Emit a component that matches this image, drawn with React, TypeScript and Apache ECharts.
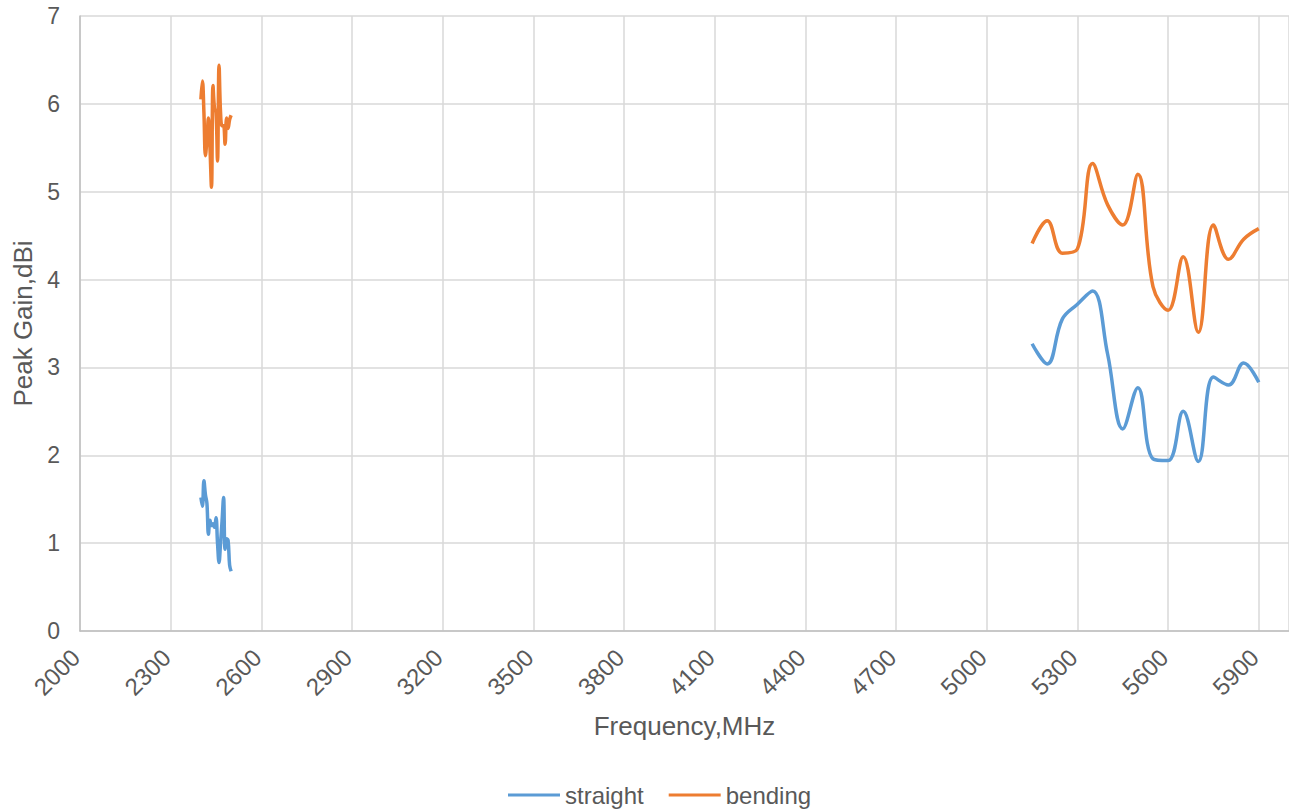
import React, { useEffect, useRef } from "react";
import * as echarts from "echarts";

// ---- data ----
const freqLow = [2400, 2405, 2410, 2415, 2420, 2425, 2430, 2435, 2440, 2445, 2450, 2455, 2460, 2465, 2470, 2475, 2480, 2485, 2490, 2495, 2500];
const straightLow = [1.52, 1.42, 1.71, 1.55, 1.45, 1.10, 1.26, 1.20, 1.22, 1.18, 1.29, 1.00, 0.78, 1.00, 1.25, 1.52, 0.93, 1.05, 1.03, 0.75, 0.68];
const bendingLow = [6.05, 6.26, 5.90, 5.41, 5.60, 5.84, 5.50, 5.05, 6.21, 5.95, 5.90, 5.35, 6.44, 5.90, 5.75, 5.75, 5.54, 5.84, 5.72, 5.82, 5.87];

const freqHigh = [5150, 5200, 5250, 5300, 5350, 5400, 5450, 5500, 5550, 5600, 5650, 5700, 5750, 5800, 5850, 5900];
const straightHigh = [3.27, 3.04, 3.55, 3.72, 3.87, 3.15, 2.30, 2.77, 1.96, 1.94, 2.50, 1.93, 2.89, 2.80, 3.05, 2.83];
const bendingHigh = [4.41, 4.67, 4.30, 4.35, 5.32, 4.85, 4.62, 5.20, 3.92, 3.65, 4.26, 3.40, 4.62, 4.23, 4.46, 4.58];

const seriesNames = ["straight", "bending"];
const xMin = 2000;
const xMax = 6000;
const xStep = 300;
const yMin = 0;
const yMax = 7;
const yStep = 1;

const FONT = "'Liberation Sans', Arial, sans-serif";
const TXT = "#595959";

function build(low: number[], high: number[]) {
  const a: any[] = freqLow.map((f, i) => [f, low[i]]);
  a.push(["-", "-"]);
  freqHigh.forEach((f, i) => a.push([f, high[i]]));
  return a;
}

export default function App() {
  const ref = useRef<HTMLDivElement>(null);
  useEffect(() => {
    if (!ref.current) return;
    const chart = echarts.init(ref.current, undefined, { renderer: "svg" });
    chart.setOption({
      animation: false,
      backgroundColor: "#ffffff",
      grid: { left: 80, right: 0, top: 16, bottom: 181, containLabel: false },
      legend: {
        data: seriesNames,
        bottom: 0,
        left: 503,
        icon: "rect",
        itemWidth: 52,
        itemHeight: 3,
        itemGap: 25,
        textStyle: { fontFamily: FONT, fontSize: 24, color: TXT },
      },
      xAxis: {
        type: "value",
        min: xMin,
        max: xMax,
        interval: xStep,
        name: "Frequency,MHz",
        nameLocation: "middle",
        nameGap: 82,
        nameTextStyle: { fontFamily: FONT, fontSize: 26, color: TXT },
        axisLine: { show: true, lineStyle: { color: "#bfbfbf", width: 1.5 } },
        axisTick: { show: false },
        splitLine: { show: true, lineStyle: { color: "#d9d9d9", width: 1.5 } },
        axisLabel: {
          rotate: 45,
          margin: 18,
          padding: [0, 6, 0, 0],
          fontFamily: FONT,
          fontSize: 24,
          color: TXT,
          showMaxLabel: false,
          formatter: (v: number) => (v >= xMax ? "" : String(v)),
        },
      },
      yAxis: {
        type: "value",
        min: yMin,
        max: yMax,
        interval: yStep,
        name: "Peak Gain,dBi",
        nameLocation: "middle",
        nameGap: 44,
        nameTextStyle: { fontFamily: FONT, fontSize: 26, color: TXT },
        axisLine: { show: true, lineStyle: { color: "#bfbfbf", width: 1.5 } },
        axisTick: { show: false },
        splitLine: { show: true, lineStyle: { color: "#d9d9d9", width: 1.5 } },
        axisLabel: { margin: 20, fontFamily: FONT, fontSize: 23, color: TXT },
      },
      series: [
        {
          name: seriesNames[0],
          type: "line",
          data: build(straightLow, straightHigh),
          smooth: 0.4,
          showSymbol: false,
          connectNulls: false,
          lineStyle: { color: "#5B9BD5", width: 3.5 },
          itemStyle: { color: "#5B9BD5" },
        },
        {
          name: seriesNames[1],
          type: "line",
          data: build(bendingLow, bendingHigh),
          smooth: 0.4,
          showSymbol: false,
          connectNulls: false,
          lineStyle: { color: "#ED7D31", width: 3.5 },
          itemStyle: { color: "#ED7D31" },
        },
      ],
    });
    return () => chart.dispose();
  }, []);
  return (
    <div
      ref={ref}
      style={{ position: "absolute", left: 0, top: 0, width: 1289, height: 812, background: "#fff" }}
    />
  );
}
